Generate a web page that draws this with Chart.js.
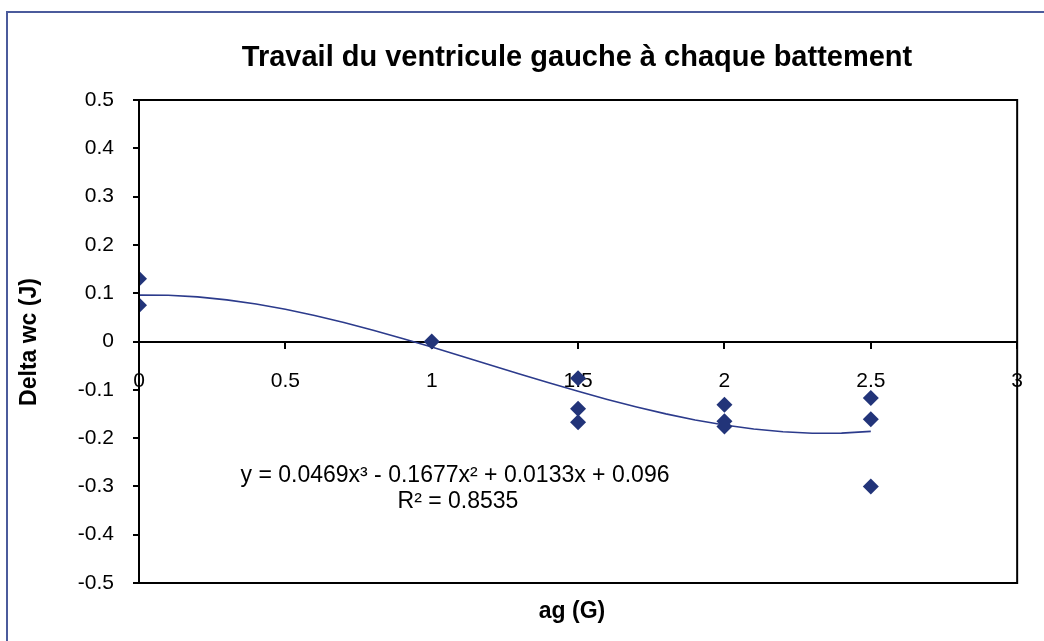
<!DOCTYPE html>
<html><head><meta charset="utf-8">
<script src="https://cdn.jsdelivr.net/npm/chart.js@4.4.1/dist/chart.umd.min.js"></script>
<style>html,body{margin:0;padding:0;background:#fff;overflow:hidden}#wrap{width:1044px;height:641px;position:relative}</style>
</head><body><div id="wrap"><canvas id="c" width="1044" height="641"></canvas></div>
<script>
const chartTitle = "Travail du ventricule gauche à chaque battement";
const xAxisTitle = "ag (G)";
const yAxisTitle = "Delta wc (J)";
const pointX = [0, 0, 1, 1.5, 1.5, 1.5, 2, 2, 2, 2.5, 2.5, 2.5];
const pointY = [0.130, 0.075, 0.0, -0.076, -0.139, -0.167, -0.131, -0.165, -0.176, -0.117, -0.161, -0.300];
const trendX = [0, 0.1, 0.2, 0.3, 0.4, 0.5, 0.6, 0.7, 0.8, 0.9, 1.0, 1.1, 1.2, 1.3, 1.4, 1.5, 1.6, 1.7, 1.8, 1.9, 2.0, 2.1, 2.2, 2.3, 2.4, 2.5];
const trendY = [0.096, 0.0957, 0.0923, 0.0862, 0.0775, 0.0666, 0.0537, 0.0392, 0.0233, 0.0063, -0.0115, -0.0299, -0.0485, -0.0671, -0.0854, -0.1031, -0.1199, -0.1356, -0.1499, -0.1624, -0.1730, -0.1813, -0.1870, -0.1899, -0.1897, -0.1861];
const equationText = "y = 0.0469x³ - 0.1677x² + 0.0133x + 0.096";
const r2Text = "R² = 0.8535";
const xTickStep = 0.5, yTickStep = 0.1;

const FONT = '"Liberation Sans", Arial, sans-serif';

const decor = {
  id: 'decor',
  beforeDraw(chart) {
    const ctx = chart.ctx;
    ctx.save();
    ctx.fillStyle = '#fff';
    ctx.fillRect(0, 0, chart.width, chart.height);
    ctx.strokeStyle = '#4b5b9c';
    ctx.lineWidth = 2;
    ctx.strokeRect(7, 12, 1200, 800);
    ctx.restore();
  },
  afterDraw(chart) {
    const ctx = chart.ctx, a = chart.chartArea;
    ctx.save();
    ctx.strokeStyle = '#000';
    ctx.lineWidth = 2;
    ctx.strokeRect(a.left, a.top, a.right - a.left, a.bottom - a.top);
    ctx.fillStyle = '#000';
    ctx.textAlign = 'center';
    ctx.textBaseline = 'middle';
    ctx.font = 'bold 29px ' + FONT;
    ctx.fillText(chartTitle, 577, 58);
    ctx.font = 'bold 23px ' + FONT;
    ctx.fillText(xAxisTitle, 572, 612);
    ctx.save();
    ctx.translate(30, 342);
    ctx.rotate(-Math.PI / 2);
    ctx.fillText(yAxisTitle, 0, 0);
    ctx.restore();
    ctx.font = '23px ' + FONT;
    ctx.fillText(equationText, 455, 476);
    ctx.fillText(r2Text, 458, 502);
    ctx.restore();
  }
};

new Chart(document.getElementById('c'), {
  type: 'scatter',
  data: {
    datasets: [
      {
        label: 'trend',
        data: trendX.map((x, i) => ({x, y: trendY[i]})),
        showLine: true,
        borderColor: '#2c3b8c',
        borderWidth: 1.6,
        pointRadius: 0,
        fill: false,
        order: 2
      },
      {
        label: 'data',
        data: pointX.map((x, i) => ({x, y: pointY[i]})),
        pointStyle: 'rectRot',
        pointRadius: 8,
        pointBackgroundColor: '#223479',
        pointBorderColor: '#223479',
        pointBorderWidth: 0,
        showLine: false,
        order: 1
      }
    ]
  },
  options: {
    responsive: false,
    animation: false,
    devicePixelRatio: 1,
    layout: {padding: {left: 0, top: 100, right: 25, bottom: 58}},
    plugins: {legend: {display: false}, tooltip: {enabled: false}, title: {display: false}},
    scales: {
      x: {
        type: 'linear', min: 0, max: 3,
        position: {y: 0},
        ticks: {stepSize: xTickStep, color: '#000', font: {family: FONT, size: 21}, padding: 21, maxRotation: 0,
          callback: v => String(Number(v.toFixed(1)))},
        grid: {drawOnChartArea: false, drawTicks: true, tickLength: 6, color: '#000', lineWidth: 2},
        border: {color: '#000', width: 2}
      },
      y: {
        type: 'linear', min: -0.5, max: 0.5,
        ticks: {stepSize: yTickStep, color: '#000', font: {family: FONT, size: 21}, padding: 19,
          callback: v => String(Number(v.toFixed(1)))},
        grid: {drawOnChartArea: false, drawTicks: true, tickLength: 6, color: '#000', lineWidth: 2},
        border: {color: '#000', width: 2},
        afterFit: s => { s.width = 139; }
      }
    }
  },
  plugins: [decor]
});
</script></body></html>
